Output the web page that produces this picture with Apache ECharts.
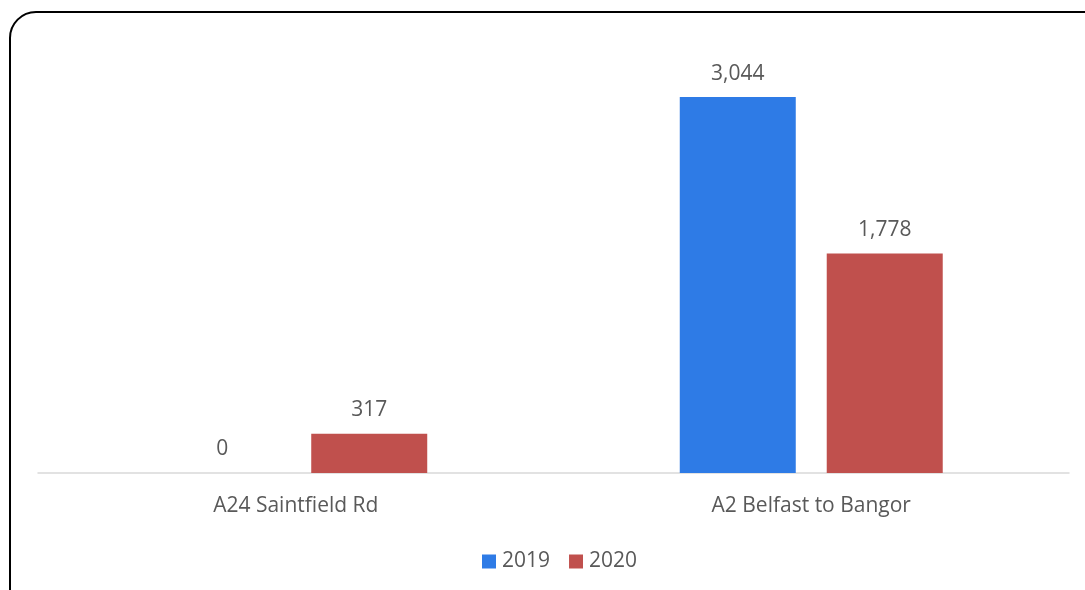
<!DOCTYPE html>
<html>
<head>
<meta charset="utf-8">
<script src="https://cdn.jsdelivr.net/npm/echarts@6/dist/echarts.min.js"></script>
<style>
  html, body { margin: 0; padding: 0; background: #fff; }
  #chart { width: 1085px; height: 590px; }
</style>
</head>
<body>
<div id="chart"></div>
<script>
const categories = ['A24 Saintfield Rd', 'A2 Belfast to Bangor'];
const seriesNames = ['2019', '2020'];
const values2019 = [0, 3044];
const values2020 = [317, 1778];
const colors = ['#2e7be6', '#c0504d'];

const font = '"Open Sans", "Noto Sans", sans-serif';
const textColor = '#595959';
const fontSize = 21;

const chart = echarts.init(document.getElementById('chart'), null, { renderer: 'canvas' });

const labelFmt = p => p.value.toLocaleString('en-US');

chart.setOption({
  animation: false,
  backgroundColor: '#fff',
  graphic: [{
    type: 'rect',
    shape: { x: 10, y: 12, width: 1100, height: 620, r: 26 },
    style: { fill: 'none', stroke: '#000', lineWidth: 2 },
    silent: true
  }],
  grid: { left: 38, right: 16, top: 40.7, bottom: 117, containLabel: false },
  legend: {
    bottom: 13,
    left: 477,
    itemWidth: 14,
    itemHeight: 14,
    itemGap: 19,
    icon: 'rect',
    textStyle: { color: textColor, fontSize: fontSize, fontFamily: font, padding: [0, 0, 0, 1] },
    data: seriesNames
  },
  xAxis: {
    type: 'category',
    data: categories,
    axisLine: { lineStyle: { color: '#d9d9d9', width: 1.5 } },
    axisTick: { show: false },
    axisLabel: { color: textColor, fontSize: fontSize, fontFamily: font, margin: 23 }
  },
  yAxis: {
    type: 'value',
    min: 0,
    max: 3500,
    show: false,
    splitLine: { show: false }
  },
  series: [
    {
      name: seriesNames[0],
      type: 'bar',
      data: values2019,
      barWidth: 116,
      barGap: '26.7%',
      itemStyle: { color: colors[0] },
      label: { show: true, position: 'top', distance: 13, color: textColor, fontSize: fontSize, fontFamily: font, formatter: labelFmt }
    },
    {
      name: seriesNames[1],
      type: 'bar',
      data: values2020,
      barWidth: 116,
      barGap: '26.7%',
      itemStyle: { color: colors[1] },
      label: { show: true, position: 'top', distance: 13, color: textColor, fontSize: fontSize, fontFamily: font, formatter: labelFmt }
    }
  ]
});
</script>
</body>
</html>
